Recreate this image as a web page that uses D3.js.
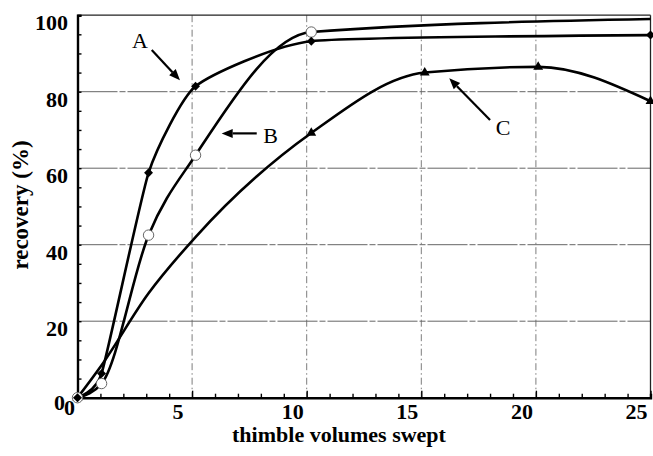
<!DOCTYPE html>
<html>
<head>
<meta charset="utf-8">
<script src="https://cdn.jsdelivr.net/npm/d3@7"></script>
<style>
  html, body { margin: 0; padding: 0; background: #fff; }
  svg { display: block; }
  text { font-family: "Liberation Serif", "Times New Roman", serif; fill: #000; }
</style>
</head>
<body>
<svg id="chart" width="653" height="456"></svg>
<script>
// Recovery versus thimble volumes swept, three runs (A, B, C)
const xTicks = [0, 5, 10, 15, 20, 25];
const yTicks = [0, 20, 40, 60, 80, 100];

const seriesAx = [0, 1.05, 3.1, 5.15, 10.2, 25];
const seriesAy = [0, 6.3, 58.8, 81.4, 93.2, 94.8];

const seriesBx = [0, 1.05, 3.1, 5.15, 10.2, 25];
const seriesBy = [0, 3.7, 42.5, 63.4, 95.6, 99.0];
const seriesBmarked = [true, true, true, true, true, false];

const seriesCx = [0, 1.05, 3.1, 5.15, 10.2, 15.15, 20.1, 25];
const seriesCy = [0, 8.5, 27.3, 42.0, 69.2, 85.0, 86.5, 77.5];
const seriesCmarked = [true, false, false, false, true, true, true, true];

// Curve labels with their pointer arrows, in data units
const labelNames = ["A", "B", "C"];
const labelPos = [[2.72, 91.4], [8.1, 66.6], [18.25, 68.6]];
const arrowFrom = [[3.24, 90.9], [7.82, 69.1], [18.0, 72.6]];
const arrowTo = [[4.47, 83.0], [6.29, 69.1], [16.22, 83.5]];

const svg = d3.select("#chart");
const plotLeft = 77.5, plotRight = 650.5, plotTop = 15.2, plotBottom = 397.7;

const x = d3.scaleLinear().domain([0, 25]).range([plotLeft, plotRight]);
const y = d3.scaleLinear().domain([0, 100]).range([plotBottom, plotTop]);

// Grid
const grid = svg.append("g");
grid.selectAll("line.h").data(yTicks.filter(d => d > 0 && d < 100)).join("line")
  .attr("x1", plotLeft).attr("x2", plotRight)
  .attr("y1", d => y(d)).attr("y2", d => y(d))
  .attr("stroke", "#555").attr("stroke-width", 0.9)
  .attr("stroke-dasharray", "40,2,6,2");
grid.selectAll("line.v").data(xTicks.filter(d => d > 0 && d < 25)).join("line")
  .attr("x1", d => x(d)).attr("x2", d => x(d))
  .attr("y1", plotTop).attr("y2", plotBottom)
  .attr("stroke", "#666").attr("stroke-width", 0.85)
  .attr("stroke-dasharray", "7,3,1.5,3");

// Frame
svg.append("line").attr("x1", plotLeft).attr("x2", plotRight).attr("y1", plotTop).attr("y2", plotTop)
  .attr("stroke", "#222").attr("stroke-width", 1.3);
svg.append("line").attr("x1", plotRight).attr("x2", plotRight).attr("y1", plotTop).attr("y2", plotBottom)
  .attr("stroke", "#222").attr("stroke-width", 1.3);

// Axes with inward ticks
const xAxis = d3.axisBottom(x).tickValues(d3.range(0, 26, 1)).tickSize(-4).tickFormat("");
const gx = svg.append("g").attr("transform", `translate(0,${plotBottom})`).call(xAxis);
gx.select(".domain").attr("stroke", "#000").attr("stroke-width", 2.4);
gx.selectAll(".tick line").attr("stroke", "#000").attr("stroke-width", 1.4)
  .attr("y2", d => (d % 5 === 0 ? -7 : -4));

const yAxis = d3.axisLeft(y).tickValues(d3.range(0, 101, 5)).tickSize(-4).tickFormat("");
const gy = svg.append("g").attr("transform", `translate(${plotLeft},0)`).call(yAxis);
gy.select(".domain").attr("stroke", "#000").attr("stroke-width", 2.4);
gy.selectAll(".tick line").attr("stroke", "#000").attr("stroke-width", 1.4);

// Tick labels
svg.append("g").selectAll("text").data(xTicks).join("text")
  .attr("x", d => x(d) - (d === 0 ? 8 : 14))
  .attr("y", d => (d === 0 ? 415 : 419))
  .attr("text-anchor", "middle")
  .attr("font-size", 22).attr("font-weight", "bold")
  .text(d => d);
svg.append("g").selectAll("text").data(yTicks).join("text")
  .attr("x", d => (d === 0 ? 65 : 68))
  .attr("y", d => y(d) + (d === 0 ? 12 : 15))
  .attr("text-anchor", "end")
  .attr("font-size", 22).attr("font-weight", "bold")
  .text(d => d);

// Axis titles
svg.append("text").attr("x", 339).attr("y", 442)
  .attr("text-anchor", "middle").attr("font-size", 22).attr("font-weight", "bold")
  .text("thimble volumes swept");
svg.append("text").attr("transform", "translate(28,205) rotate(-90)")
  .attr("text-anchor", "middle").attr("font-size", 23).attr("font-weight", "bold")
  .text("recovery (%)");

// Curves: A keeps its corners, B and C stay monotone between points
const lineA = d3.line().x(d => x(d[0])).y(d => y(d[1])).curve(d3.curveCardinal.tension(0.5));
const lineMono = d3.line().x(d => x(d[0])).y(d => y(d[1])).curve(d3.curveMonotoneX);
const ptsA = seriesAx.map((v, i) => [v, seriesAy[i]]);
const ptsB = seriesBx.map((v, i) => [v, seriesBy[i]]);
const ptsC = seriesCx.map((v, i) => [v, seriesCy[i]]);

[[ptsC, lineMono], [ptsB, lineMono], [ptsA, lineA]].forEach(([p, gen]) => {
  svg.append("path").datum(p).attr("d", gen)
    .attr("fill", "none").attr("stroke", "#000").attr("stroke-width", 2.6)
    .attr("stroke-linejoin", "round");
});

// Markers
svg.append("g").selectAll("path").data(ptsC.filter((d, i) => seriesCmarked[i])).join("path")
  .attr("transform", d => `translate(${x(d[0])},${y(d[1])})`)
  .attr("d", d3.symbol().type(d3.symbolTriangle).size(42))
  .attr("fill", "#000");
svg.append("g").selectAll("circle").data(ptsB.filter((d, i) => seriesBmarked[i])).join("circle")
  .attr("cx", d => x(d[0])).attr("cy", d => y(d[1])).attr("r", 5.2)
  .attr("fill", "#fff").attr("stroke", "#666").attr("stroke-width", 1);
svg.append("g").selectAll("path").data(ptsA).join("path")
  .attr("transform", d => `translate(${x(d[0])},${y(d[1])}) rotate(45)`)
  .attr("d", d3.symbol().type(d3.symbolSquare).size(40))
  .attr("fill", "#000");

// Curve labels and pointer arrows
labelNames.forEach((name, i) => {
  svg.append("text")
    .attr("x", x(labelPos[i][0])).attr("y", y(labelPos[i][1]))
    .attr("text-anchor", i === 0 ? "middle" : "start")
    .attr("font-size", 22).text(name);
  const x0 = x(arrowFrom[i][0]), y0 = y(arrowFrom[i][1]);
  const x1 = x(arrowTo[i][0]), y1 = y(arrowTo[i][1]);
  const ang = Math.atan2(y1 - y0, x1 - x0);
  const headLen = 11, headW = 4.5;
  const bx = x1 - headLen * Math.cos(ang), by = y1 - headLen * Math.sin(ang);
  svg.append("line").attr("x1", x0).attr("y1", y0).attr("x2", bx).attr("y2", by)
    .attr("stroke", "#000").attr("stroke-width", 2.2);
  const px = -Math.sin(ang) * headW, py = Math.cos(ang) * headW;
  svg.append("path")
    .attr("d", `M${x1},${y1}L${bx + px},${by + py}L${bx - px},${by - py}Z`)
    .attr("fill", "#000");
});
</script>
</body>
</html>
